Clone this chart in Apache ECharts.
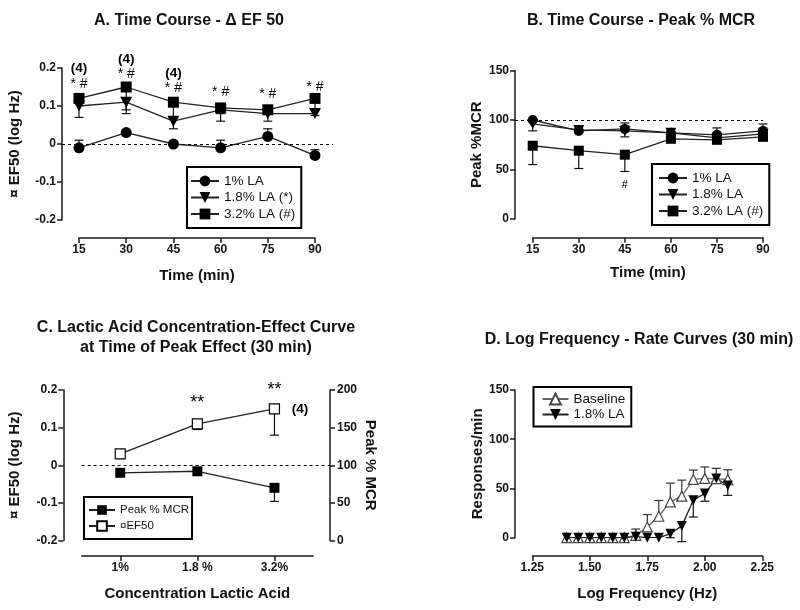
<!DOCTYPE html>
<html><head><meta charset="utf-8">
<script src="https://cdn.jsdelivr.net/npm/echarts@6/dist/echarts.min.js"></script>
<style>html,body{margin:0;padding:0;background:#fff}#c{width:800px;height:610px}</style>
</head><body><div id="c"></div>
<script>
// ---------------- DATA ----------------
// Panel A: Time course - delta EF50 (log Hz)
const timePoints = [15, 30, 45, 60, 75, 90];
const aLA1      = [-0.01, 0.03, 0.00, -0.01, 0.02, -0.03];
const aLA1Err   = [0.02, 0.005, 0.005, 0.02, 0.02, 0.015];      // + = bar up, - = bar down
const aLA18     = [0.10, 0.11, 0.06, 0.09, 0.08, 0.08];
const aLA18Err  = [-0.03, -0.03, -0.02, -0.01, -0.02, -0.005];
const aLA32     = [0.12, 0.15, 0.11, 0.095, 0.09, 0.12];
const aLA32Err  = [-0.01, -0.06, -0.04, -0.035, -0.01, -0.03];
const aStarY    = [0.158, 0.184, 0.147, 0.136, 0.131, 0.150];    // "* #" marks
const aNTimes   = [15, 30, 45];
const aNY       = [0.198, 0.222, 0.187];                         // "(4)" marks

// Panel B: Time course - Peak % MCR
const bLA1      = [100, 89, 91, 87, 85, 89];
const bLA1Err   = [1, 1, 6, 1, 7, 7];
const bLA18     = [96, 90, 89, 87, 82, 86];
const bLA18Err  = [-7, -2, -6, -2, -3, -2];
const bLA32     = [74, 69, 65, 81, 80, 83];
const bLA32Err  = [-19, -18, -17, -3, -3, -2];
const bHashTime = [45];
const bHashY    = [34.5];

// Panel C: concentration-effect at 30 min
const concCategories = ['1%', '1.8 %', '3.2%'];
const cPeakMCR     = [90, 92, 70];
const cPeakMCRErr  = [-2, -2, -18];
const cDeltaEF50   = [0.03, 0.11, 0.15];
const cDeltaEF50Err= [-0.005, -0.015, -0.07];
const cStarIdx     = [1, 2];
const cStarY       = [0.166, 0.200];

// Panel D: log frequency - rate curves
const logFreq   = [1.40,1.45,1.50,1.55,1.60,1.65,1.70,1.75,1.80,1.85,1.90,1.95,2.00,2.05,2.10];
const dBaseline = [0,0,0,0,0,0,2.4,10.9,21.8,36.4,42.2,59.2,60.2,60,59];
const dBaseErr  = [0,0,0,0,0,0,6.4,12.6,16,19,16.3,9.5,11.6,10.4,10];
const dLA18     = [0,0,0,0,0,0,1,0,0,4,12,38,45,60,53];
const dLA18Err  = [0,0,0,0,0,0,0,0,0,-4,-16,-17,-8,-3,-10];

// ---------------- LAYOUT ----------------
const FONT = 'Arial, "Liberation Sans", Helvetica, sans-serif';
const G = {
  A: {dL:62,   dR:333,   top:68,   bot:220,   axY:238,   axL:79,    axR:315},
  B: {dL:515,  dR:763,   top:70.5, bot:219,   axY:237.7, axL:532.7, axR:763},
  C: {dL:81.7, dR:330,   top:390,  bot:540.5, axY:556,   axL:81.7,  axR:313},
  D: {dL:515,  dR:762.3, top:390,  bot:537.7, axY:556,   axL:532.3, axR:762.3}
};
function dataRange(g, vMin, vMax){
  const k = (vMax - vMin) / (g.axR - g.axL);
  return {min: vMin - (g.axL - g.dL) * k, max: vMax + (g.dR - g.axR) * k};
}
const AXLINE  = {show:true, onZero:false, lineStyle:{color:'#1a1a1a', width:1.5}};
const AXTICK  = {show:true, length:5, lineStyle:{color:'#1a1a1a', width:1.5}};
const AXLABEL = {color:'#111', fontSize:12, fontWeight:'bold', fontFamily:FONT, margin:6};
const NAMEST  = {color:'#111', fontSize:15, fontWeight:'bold', fontFamily:FONT};

const grids = [];
['A','B','C','D'].forEach(function(p){
  const g = G[p];
  grids.push({left:g.dL, top:g.top, width:g.dR-g.dL, height:g.bot-g.top});
  grids.push({left:g.axL, top:g.top, width:g.axR-g.axL, height:g.axY-g.top});
});

const rA = dataRange(G.A, 15, 90), rB = dataRange(G.B, 15, 90);
const rC = dataRange(G.C, -0.5, 2.5), rD = dataRange(G.D, 1.25, 2.25);
function hiddenX(gi, r){ return {type:'value', gridIndex:gi, min:r.min, max:r.max, show:false}; }
function hiddenY(gi){ return {type:'value', gridIndex:gi, min:0, max:1, show:false}; }

const xAxes = [
  hiddenX(0, rA),
  {type:'value', gridIndex:1, min:15, max:90, interval:15, axisLine:AXLINE, axisTick:AXTICK, axisLabel:AXLABEL, splitLine:{show:false},
   name:'Time (min)', nameLocation:'middle', nameGap:30, nameTextStyle:NAMEST},
  hiddenX(2, rB),
  {type:'value', gridIndex:3, min:15, max:90, interval:15, axisLine:AXLINE, axisTick:AXTICK, axisLabel:AXLABEL, splitLine:{show:false},
   name:'Time (min)', nameLocation:'middle', nameGap:28, nameTextStyle:NAMEST},
  hiddenX(4, rC),
  {type:'category', gridIndex:5, data:concCategories, boundaryGap:true, axisLine:AXLINE,
   axisTick:Object.assign({alignWithLabel:true}, AXTICK), axisLabel:Object.assign({interval:0}, AXLABEL), splitLine:{show:false},
   name:'Concentration Lactic Acid', nameLocation:'middle', nameGap:30, nameTextStyle:NAMEST},
  hiddenX(6, rD),
  {type:'value', gridIndex:7, min:1.25, max:2.25, interval:0.25, axisLine:AXLINE, axisTick:AXTICK,
   axisLabel:Object.assign({formatter:function(v){return v.toFixed(2);}}, AXLABEL), splitLine:{show:false},
   name:'Log Frequency (Hz)', nameLocation:'middle', nameGap:30, nameTextStyle:NAMEST}
];

const yAxes = [
  {type:'value', gridIndex:0, min:-0.2, max:0.2, interval:0.1, axisLine:AXLINE, axisTick:AXTICK, axisLabel:AXLABEL, splitLine:{show:false},
   name:'¤ EF50 (log Hz)', nameLocation:'middle', nameGap:40, nameTextStyle:NAMEST},
  hiddenY(1),
  {type:'value', gridIndex:2, min:0, max:150, interval:50, axisLine:AXLINE, axisTick:AXTICK, axisLabel:AXLABEL, splitLine:{show:false},
   name:'Peak %MCR', nameLocation:'middle', nameGap:31, nameTextStyle:NAMEST},
  hiddenY(3),
  {type:'value', gridIndex:4, min:-0.2, max:0.2, interval:0.1, offset:G.C.dL-63.3, axisLine:AXLINE, axisTick:AXTICK, axisLabel:AXLABEL, splitLine:{show:false},
   name:'¤ EF50 (log Hz)', nameLocation:'middle', nameGap:41, nameTextStyle:NAMEST},
  {type:'value', gridIndex:4, position:'right', min:0, max:200, interval:50, axisLine:AXLINE, axisTick:AXTICK,
   axisLabel:Object.assign({}, AXLABEL, {margin:7}), splitLine:{show:false},
   name:'Peak % MCR', nameLocation:'middle', nameGap:33, nameRotate:-90, nameTextStyle:NAMEST},
  hiddenY(5),
  {type:'value', gridIndex:6, min:0, max:150, interval:50, axisLine:AXLINE, axisTick:AXTICK, axisLabel:AXLABEL, splitLine:{show:false},
   name:'Responses/min', nameLocation:'middle', nameGap:29, nameTextStyle:NAMEST},
  hiddenY(7)
];

// ---------------- SERIES HELPERS ----------------
function lineS(name, xi, yi, xs, ys, sym, size, opts){
  opts = opts || {};
  return {
    type:'line', name:name, xAxisIndex:xi, yAxisIndex:yi,
    data: xs.map(function(x,i){return [x, ys[i]];}),
    symbol:sym, symbolSize:size, symbolRotate:opts.rotate||0, showSymbol:true,
    lineStyle:{color:opts.line||'#222', width:1.3},
    itemStyle:{color:opts.fill||'#000', borderColor:opts.border||'#000', borderWidth:opts.bw||0, opacity:1},
    emphasis:{disabled:true}, z:3
  };
}
function errS(xi, yi, xs, ys, errs, color){
  const data = [];
  xs.forEach(function(x,i){ if (errs[i] !== 0) data.push([x, ys[i], errs[i]]); });
  return {
    type:'custom', xAxisIndex:xi, yAxisIndex:yi, z:2, silent:true, data:data,
    renderItem:function(params, api){
      const x = api.value(0), y = api.value(1), e = api.value(2);
      const p0 = api.coord([x, y]), p1 = api.coord([x, y + e]);
      const h = 4.5, st = {stroke:color||'#111', lineWidth:1.2};
      return {type:'group', children:[
        {type:'line', shape:{x1:p0[0], y1:p0[1], x2:p1[0], y2:p1[1]}, style:st},
        {type:'line', shape:{x1:p1[0]-h, y1:p1[1], x2:p1[0]+h, y2:p1[1]}, style:st}
      ]};
    }
  };
}
function annotS(xi, yi, xs, ys, texts, fs, fw){
  return {
    type:'scatter', xAxisIndex:xi, yAxisIndex:yi, symbolSize:0.1, clip:false, silent:true, z:6,
    itemStyle:{color:'rgba(0,0,0,0)', opacity:1},
    emphasis:{disabled:true},
    data: xs.map(function(x,i){return {value:[x, ys[i]], name: texts[i]};}),
    label:{show:true, position:'inside', formatter:'{b}', color:'#000', opacity:1, fontSize:fs, fontWeight:fw||'normal', fontFamily:FONT}
  };
}
function refLine(xi, yi, markData){
  return {type:'line', xAxisIndex:xi, yAxisIndex:yi, data:[], z:1, silent:true,
    markLine:{silent:true, symbol:'none', label:{show:false}, animation:false,
      lineStyle:{type:[3,3], color:'#000', width:1}, data:markData}};
}

const series = [
  // A
  refLine(0, 0, [{yAxis:0}]),
  errS(0, 0, timePoints, aLA1, aLA1Err),
  errS(0, 0, timePoints, aLA18, aLA18Err),
  errS(0, 0, timePoints, aLA32, aLA32Err),
  lineS('1% LA', 0, 0, timePoints, aLA1, 'circle', 11),
  lineS('1.8% LA (*)', 0, 0, timePoints, aLA18, 'triangle', [12,11], {rotate:180}),
  lineS('3.2% LA (#)', 0, 0, timePoints, aLA32, 'rect', 11),
  annotS(0, 0, timePoints, aStarY, timePoints.map(function(){return '* #';}), 14),
  annotS(0, 0, aNTimes, aNY, aNTimes.map(function(){return '(4)';}), 13.5, 'bold'),
  // B
  refLine(2, 2, [{yAxis:100}]),
  errS(2, 2, timePoints, bLA1, bLA1Err),
  errS(2, 2, timePoints, bLA18, bLA18Err),
  errS(2, 2, timePoints, bLA32, bLA32Err),
  lineS('1% LA', 2, 2, timePoints, bLA1, 'circle', 10),
  lineS('1.8% LA', 2, 2, timePoints, bLA18, 'triangle', [11,10], {rotate:180}),
  lineS('3.2% LA (#)', 2, 2, timePoints, bLA32, 'rect', 10),
  annotS(2, 2, bHashTime, bHashY, ['#'], 11),
  // C
  refLine(4, 4, [{yAxis:0}]),
  errS(4, 5, [0,1,2], cPeakMCR, cPeakMCRErr),
  errS(4, 4, [0,1,2], cDeltaEF50, cDeltaEF50Err),
  lineS('Peak % MCR', 4, 5, [0,1,2], cPeakMCR, 'rect', 10),
  lineS('¤EF50', 4, 4, [0,1,2], cDeltaEF50, 'rect', 10, {fill:'#fff', border:'#000', bw:1.2}),
  annotS(4, 4, cStarIdx, cStarY, ['**','**'], 18),
  annotS(4, 4, [2.33], [0.15], ['(4)'], 13.5, 'bold'),
  // D
  errS(6, 7, logFreq, dBaseline, dBaseErr, '#333'),
  errS(6, 7, logFreq, dLA18, dLA18Err),
  lineS('Baseline', 6, 7, logFreq, dBaseline, 'triangle', [10,10], {fill:'#fff', border:'#444', bw:1.2, line:'#666'}),
  lineS('1.8% LA ', 6, 7, logFreq, dLA18, 'triangle', [10,10], {rotate:180})
];

function legendCfg(names, left, top, pad, iw, ih, gap, fs){
  return {data:names, left:left, top:top, orient:'vertical', padding:pad, itemWidth:iw, itemHeight:ih, itemGap:gap,
    borderColor:'#000', borderWidth:2, backgroundColor:'#fff', selectedMode:false,
    textStyle:{color:'#111', fontSize:fs, fontFamily:FONT}};
}

const option = {
  animation:false,
  backgroundColor:'#fff',
  textStyle:{fontFamily:FONT},
  grid:grids, xAxis:xAxes, yAxis:yAxes, series:series,
  legend:[
    legendCfg(['1% LA','1.8% LA (*)','3.2% LA (#)'], 187, 167, [7,6,7,3], 28, 13.5, 2.5, 13.5),
    legendCfg(['1% LA','1.8% LA','3.2% LA (#)'], 652, 164, [7,6,7,6], 28, 13.5, 2.5, 13.5),
    legendCfg(['Peak % MCR','¤EF50'], 84, 497, [7,3,7,4], 26, 12, 4, 11.5),
    legendCfg(['Baseline','1.8% LA '], 533.5, 387, [5,3,5,8], 26, 13.5, 1.5, 13.5)
  ],
  graphic:[
    {type:'text', x:189, y:21, style:{text:'A. Time Course - Δ EF 50', font:'bold 16px '+FONT, fill:'#111', align:'center', verticalAlign:'middle', textAlign:'center', textVerticalAlign:'middle'}},
    {type:'text', x:641, y:21, style:{text:'B. Time Course - Peak % MCR', font:'bold 16px '+FONT, fill:'#111', align:'center', verticalAlign:'middle', textAlign:'center', textVerticalAlign:'middle'}},
    {type:'text', x:196, y:338, style:{text:'C. Lactic Acid Concentration-Effect Curve\nat Time of Peak Effect (30 min)', font:'bold 16px '+FONT, lineHeight:20, fill:'#111', align:'center', verticalAlign:'middle', textAlign:'center', textVerticalAlign:'middle'}},
    {type:'text', x:639, y:340, style:{text:'D. Log Frequency - Rate Curves (30 min)', font:'bold 16px '+FONT, fill:'#111', align:'center', verticalAlign:'middle', textAlign:'center', textVerticalAlign:'middle'}}
  ]
};
const chart = echarts.init(document.getElementById('c'), null, {renderer:'canvas'});
chart.setOption(option);
</script></body></html>
